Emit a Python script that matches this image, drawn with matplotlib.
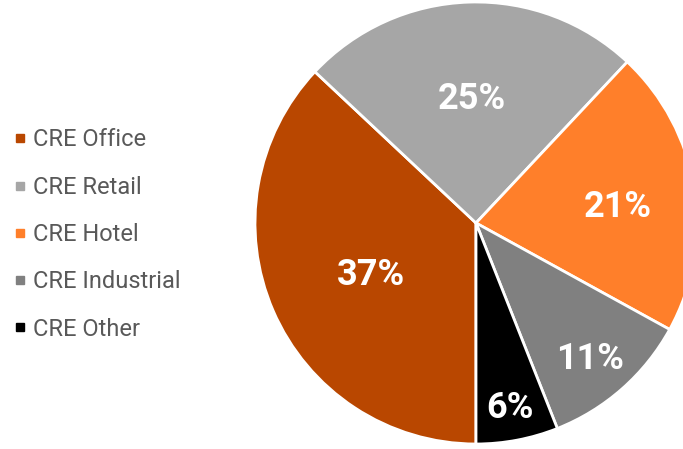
import matplotlib
matplotlib.use("Agg")
import matplotlib.pyplot as plt
from matplotlib.lines import Line2D
import numpy as np

# share of CRE loans by property type
categories = ["CRE Office", "CRE Retail", "CRE Hotel", "CRE Industrial", "CRE Other"]
shares = [37, 25, 21, 11, 6]
colors = ["#B94700", "#A6A6A6", "#FF7F2A", "#808080", "#000000"]
label_dist = [0.52, 0.59, 0.65, 0.78, 0.82]

plt.rcParams['font.family'] = ['Roboto', 'DejaVu Sans']

fig = plt.figure(figsize=(6.83, 4.49), dpi=100)
ax = fig.add_axes([255 / 683, 5 / 449, 442 / 683, 442 / 449])

wedges, _ = ax.pie(shares, colors=colors, startangle=270, counterclock=False,
                   radius=1, wedgeprops=dict(edgecolor="white", linewidth=2))

# percentage labels placed along each wedge's middle angle
for w, val, d in zip(wedges, shares, label_dist):
    ang = np.deg2rad((w.theta1 + w.theta2) / 2)
    ax.text(d * np.cos(ang), d * np.sin(ang) - 0.03, f"{val}%", color="white",
            fontsize=26, fontweight="bold", ha="center", va="center")

ax.set_xlim(-1, 1)
ax.set_ylim(-1, 1)

handles = [Line2D([], [], marker="s", linestyle="", color=c, markersize=5.5)
           for c in colors]
leg = fig.legend(handles, categories, loc="upper left",
                 bbox_to_anchor=(3 / 683, 1 - 119 / 449), frameon=False,
                 fontsize=17, handlelength=0.6, handletextpad=0.25,
                 labelspacing=1.03, borderaxespad=0)
for t in leg.get_texts():
    t.set_color("#595959")

fig.savefig("out.png", dpi=100)
